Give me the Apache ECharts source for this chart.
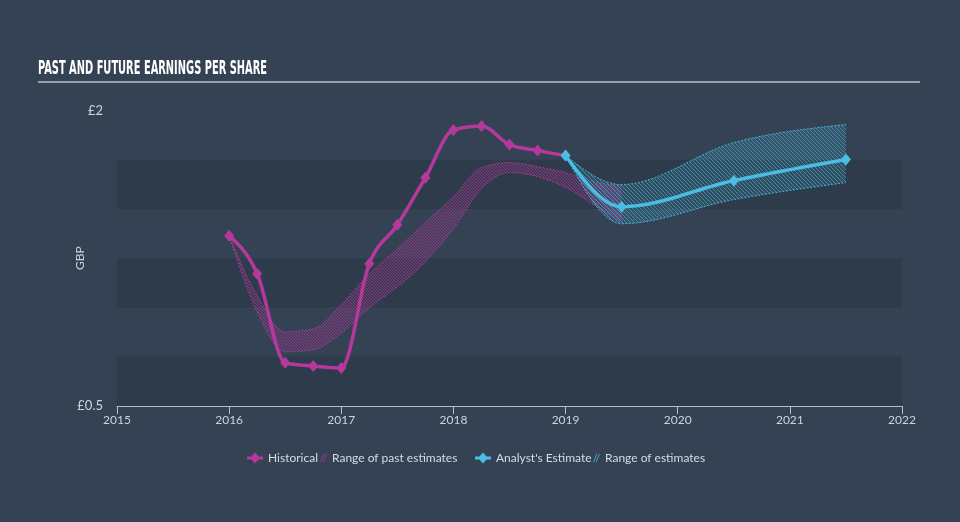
<!DOCTYPE html>
<html>
<head>
<meta charset="utf-8">
<script src="https://cdn.jsdelivr.net/npm/echarts@6/dist/echarts.min.js"></script>
<style>
html,body{margin:0;padding:0;background:#344253;}
#chart{width:960px;height:522px;}
</style>
</head>
<body>
<div id="chart"></div>
<script>
// ---- data ----
var xTicks = [2015, 2016, 2017, 2018, 2019, 2020, 2021, 2022];
var histX = [2016, 2016.25, 2016.5, 2016.75, 2017, 2017.25, 2017.5, 2017.75, 2018, 2018.25, 2018.5, 2018.75, 2019];
var histY = [1.364, 1.171, 0.719, 0.703, 0.693, 1.222, 1.420, 1.659, 1.901, 1.921, 1.827, 1.797, 1.771];
var pastRangeX = [2016, 2016.25, 2016.5, 2016.75, 2017, 2017.25, 2017.5, 2017.75, 2018, 2018.25, 2018.5, 2018.75, 2019, 2019.25, 2019.5];
var pastHigh = [1.364, 1.059, 0.876, 0.892, 1.014, 1.171, 1.298, 1.431, 1.563, 1.710, 1.736, 1.715, 1.685, 1.639, 1.619];
var pastLow  = [1.364, 0.978, 0.775, 0.785, 0.871, 0.998, 1.105, 1.232, 1.400, 1.603, 1.685, 1.664, 1.609, 1.522, 1.431];
var estX = [2019, 2019.5, 2020.5, 2021.5];
var estY = [1.771, 1.512, 1.644, 1.751];
var estHigh = [1.771, 1.624, 1.837, 1.929];
var estLow  = [1.771, 1.425, 1.548, 1.634];
var yLabels = {'0.5': '£0.5', '2': '£2'};

var MAG = '#b5399c';
var CYAN = '#4bbde3';

function hatch(lineColor, fillColor, size) {
  var s = size;
  var c = document.createElement('canvas');
  c.width = s; c.height = s;
  var g = c.getContext('2d');
  g.fillStyle = fillColor; g.fillRect(0, 0, s, s);
  g.strokeStyle = lineColor; g.lineWidth = 1;
  g.beginPath();
  g.moveTo(-1, -1); g.lineTo(s + 1, s + 1);
  g.moveTo(-1, s - 1); g.lineTo(1, s + 1);
  g.moveTo(s - 1, -1); g.lineTo(s + 1, 1);
  g.stroke();
  return {image: c, repeat: 'repeat'};
}

function pairs(xs, ys) { return xs.map(function (x, i) { return [x, ys[i]]; }); }

// monotone-x cubic interpolation in pixel space, sampled to a polyline
function sgn(v) { return v < 0 ? -1 : 1; }
function monotone(pts) {
  var n = pts.length;
  if (n < 3) return pts.slice();
  var t = new Array(n);
  for (var i = 1; i < n - 1; i++) {
    var h0 = pts[i][0] - pts[i - 1][0], h1 = pts[i + 1][0] - pts[i][0];
    var s0 = (pts[i][1] - pts[i - 1][1]) / h0, s1 = (pts[i + 1][1] - pts[i][1]) / h1;
    var p = (s0 * h1 + s1 * h0) / (h0 + h1);
    t[i] = (sgn(s0) + sgn(s1)) * Math.min(Math.abs(s0), Math.abs(s1), 0.5 * Math.abs(p)) || 0;
  }
  var hA = pts[1][0] - pts[0][0];
  t[0] = (3 * (pts[1][1] - pts[0][1]) / hA - t[1]) / 2;
  var hB = pts[n - 1][0] - pts[n - 2][0];
  t[n - 1] = (3 * (pts[n - 1][1] - pts[n - 2][1]) / hB - t[n - 2]) / 2;
  var out = [pts[0].slice()];
  for (var k = 0; k < n - 1; k++) {
    var x0 = pts[k][0], y0 = pts[k][1], x1 = pts[k + 1][0], y1 = pts[k + 1][1];
    var dx = (x1 - x0) / 3;
    var c1x = x0 + dx, c1y = y0 + dx * t[k], c2x = x1 - dx, c2y = y1 - dx * t[k + 1];
    var steps = 20;
    for (var j = 1; j <= steps; j++) {
      var u = j / steps, m = 1 - u;
      var bx = m * m * m * x0 + 3 * m * m * u * c1x + 3 * m * u * u * c2x + u * u * u * x1;
      var by = m * m * m * y0 + 3 * m * m * u * c1y + 3 * m * u * u * c2y + u * u * u * y1;
      out.push([bx, by]);
    }
  }
  return out;
}

function curveRender(xs, ys, color, width) {
  return function (params, api) {
    if (params.dataIndex !== 0) return null;
    var pts = xs.map(function (x, i) { return api.coord([x, ys[i]]); });
    return {type: 'polyline', shape: {points: monotone(pts)},
      style: {stroke: color, lineWidth: width, fill: null, lineJoin: 'round', lineCap: 'round'}};
  };
}

function bandRender(xs, hi, lo, color, pattern) {
  return function (params, api) {
    if (params.dataIndex !== 0) return null;
    var up = monotone(xs.map(function (x, i) { return api.coord([x, hi[i]]); }));
    var dn = monotone(xs.map(function (x, i) { return api.coord([x, lo[i]]); }));
    var poly = up.concat(dn.slice().reverse());
    var dash = {stroke: color, lineWidth: 1, fill: null, lineDash: [2, 1.5], opacity: 0.9};
    return {type: 'group', children: [
      {type: 'polygon', shape: {points: poly}, style: {fill: pattern, stroke: null}},
      {type: 'polyline', shape: {points: up}, style: dash},
      {type: 'polyline', shape: {points: dn}, style: Object.assign({}, dash)}
    ]};
  };
}

var chart = echarts.init(document.getElementById('chart'), null, {renderer: 'canvas'});

var FONT = 'Lato, "Open Sans", sans-serif';
var hatchIcon = 'path://M0,10 L4,0 L5.2,0 L1.2,10 Z M3,10 L7,0 L8.2,0 L4.2,10 Z';
var lineDiamondIcon = 'path://M0,4 L4.4,4 L8,0 L11.6,4 L16,4 L16,7 L11.6,7 L8,11 L4.4,7 L0,7 Z';

// measure title for condensing
var titleText = 'PAST AND FUTURE EARNINGS PER SHARE';
var titleFont = 'bold 20px "DejaVu Sans Condensed", "DejaVu Sans", sans-serif';
var mc = document.createElement('canvas').getContext('2d');
mc.font = titleFont;
var tw = mc.measureText(titleText).width;
var sx = 229 / tw;

function legendAt(left, item, w) {
  return {
    left: left, top: 452, padding: 0, itemWidth: w, itemHeight: 11, itemGap: 0,
    textStyle: {color: '#d6dce2', fontSize: 12, fontFamily: FONT},
    data: [item]
  };
}

var option = {
  backgroundColor: '#344253',
  animation: false,
  grid: {left: 117, right: 58, top: 110.5, bottom: 116},
  graphic: [
    {type: 'text', left: 38, top: 59, scaleX: sx, scaleY: 1,
     style: {text: titleText, font: titleFont, fill: '#ffffff'}},
    {type: 'line', shape: {x1: 38, y1: 82, x2: 920, y2: 82},
     style: {stroke: '#98a3ae', lineWidth: 2}}
  ],
  legend: [
    legendAt(247, {name: 'Historical', icon: lineDiamondIcon, itemStyle: {color: MAG}}, 16),
    legendAt(320, {name: 'Range of past estimates', icon: hatchIcon, itemStyle: {color: 'rgba(181,57,156,0.75)'}}, 7),
    legendAt(475, {name: 'Analyst\'s Estimate', icon: lineDiamondIcon, itemStyle: {color: CYAN}}, 16),
    legendAt(593, {name: 'Range of estimates', icon: hatchIcon, itemStyle: {color: 'rgba(75,189,227,0.75)'}}, 7)
  ],
  xAxis: {
    type: 'value', min: 2015, max: 2022, interval: 1,
    axisLine: {show: true, lineStyle: {color: '#b4bfca', width: 1}},
    axisTick: {show: true, length: 8, lineStyle: {color: '#b4bfca'}},
    axisLabel: {color: '#cdd4db', fontSize: 12, fontFamily: FONT, margin: 8,
      formatter: function (v) { return xTicks.indexOf(v) >= 0 ? String(v) : ''; }},
    splitLine: {show: false}
  },
  yAxis: {
    type: 'value', min: 0.5, max: 2, interval: 0.25,
    name: 'GBP', nameLocation: 'middle', nameGap: 31, nameMoveOverlap: false,
    nameTextStyle: {color: '#cdd4db', fontSize: 12, fontFamily: FONT},
    axisLine: {show: false}, axisTick: {show: false},
    axisLabel: {color: '#cdd4db', fontSize: 13, fontFamily: FONT, margin: 14, padding: [0, 0, 10, 0],
      formatter: function (v) { return yLabels[String(v)] || ''; }},
    splitLine: {show: false},
    splitArea: {show: true, areaStyle: {color: ['#2e3b4b', 'rgba(0,0,0,0)']}}
  },
  series: [
    {name: 'Range of past estimates', type: 'custom', z: 1, itemStyle: {color: MAG},
     data: pairs(pastRangeX, pastHigh),
     renderItem: bandRender(pastRangeX, pastHigh, pastLow, MAG, hatch('rgba(181,57,156,0.7)', 'rgba(181,57,156,0.08)', 3))},
    {name: 'Range of estimates', type: 'custom', z: 2, itemStyle: {color: CYAN},
     data: pairs(estX, estHigh),
     renderItem: bandRender(estX, estHigh, estLow, CYAN, hatch('rgba(75,189,227,0.55)', 'rgba(75,189,227,0.14)', 4))},
    {name: 'Historical', type: 'custom', z: 3, itemStyle: {color: MAG},
     data: pairs(histX, histY), renderItem: curveRender(histX, histY, MAG, 3.5)},
    {name: 'Historical', type: 'scatter', z: 4, symbol: 'diamond', symbolSize: [10, 12],
     itemStyle: {color: MAG, opacity: 1}, data: pairs(histX, histY)},
    {name: 'Analyst\'s Estimate', type: 'custom', z: 5, itemStyle: {color: CYAN},
     data: pairs(estX, estY), renderItem: curveRender(estX, estY, CYAN, 3.5)},
    {name: 'Analyst\'s Estimate', type: 'scatter', z: 6, symbol: 'diamond', symbolSize: [10, 12],
     itemStyle: {color: CYAN, opacity: 1}, data: pairs(estX, estY)}
  ]
};
chart.setOption(option);
</script>
</body>
</html>
